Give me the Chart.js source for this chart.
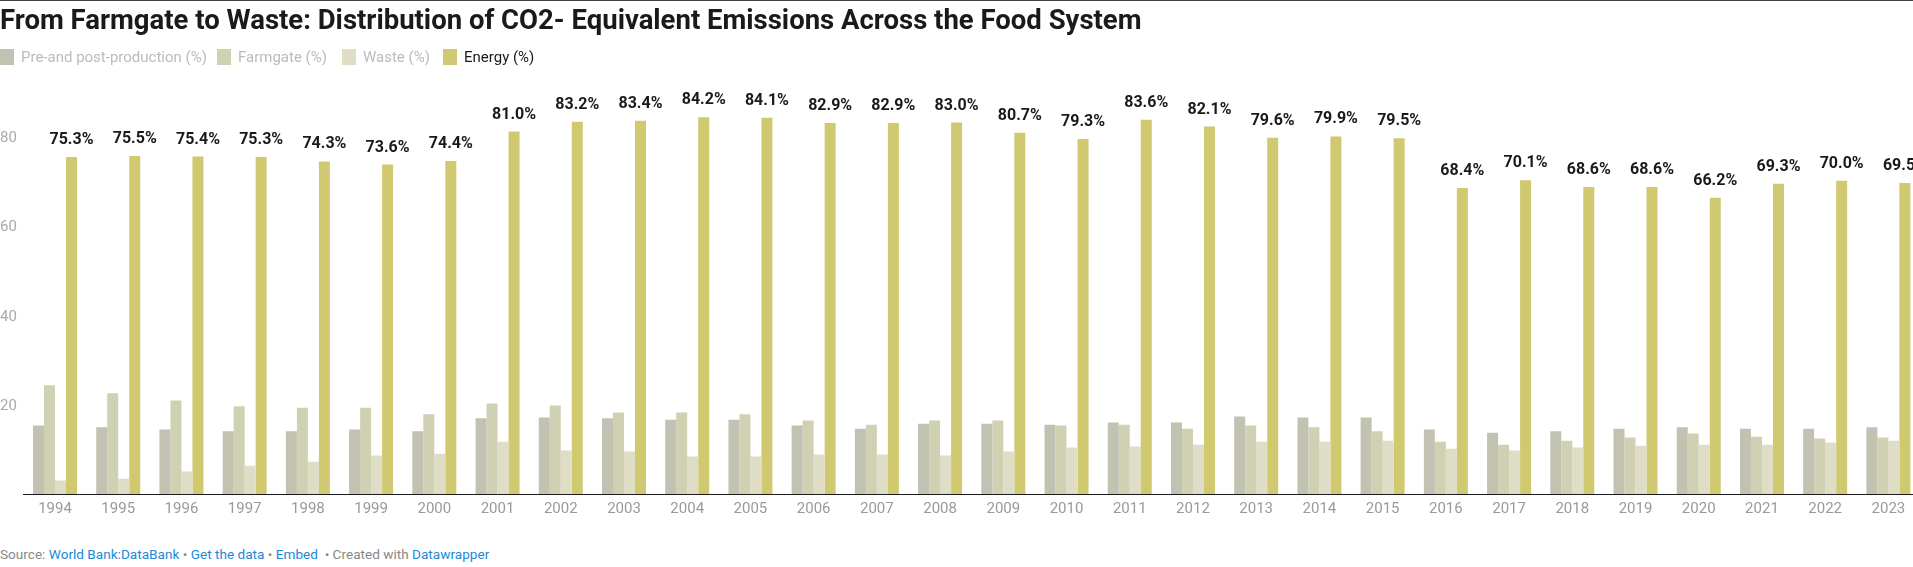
<!DOCTYPE html>
<html>
<head>
<meta charset="utf-8">
<script src="https://cdn.jsdelivr.net/npm/chart.js@4/dist/chart.umd.min.js"></script>
<style>
  html, body { margin: 0; padding: 0; background: #fff; overflow: hidden; width: 1913px; height: 567px; }
  body { position: relative; font-family: Roboto, "Noto Sans", sans-serif; border-top: 1px solid #444; box-sizing: border-box; }
  #title { position: absolute; left: 0; top: 2px; font-size: 27.5px; font-weight: 700; color: #1a1a1a; white-space: nowrap; z-index: 2; }
  #legend { position: absolute; left: 0; top: 48px; height: 16px; z-index: 2; font-size: 15px; white-space: nowrap; }
  .li { position: absolute; top: 0; display: flex; align-items: center; height: 16px; }
  .sw { width: 14px; height: 16px; margin-right: 7px; }
  #wrap { position: absolute; left: 0; top: 0; width: 1920px; height: 520px; z-index: 1; }
  #footer { position: absolute; left: 0; top: 545px; font-size: 13.6px; color: #888; white-space: nowrap; z-index: 2; }
  #footer a { color: #1b8ad3; text-decoration: none; }
</style>
</head>
<body>
<div id="title">From Farmgate to Waste: Distribution of CO2- Equivalent Emissions Across the Food System</div>
<div id="legend"></div>
<div id="wrap"><canvas id="c"></canvas></div>
<div id="footer">Source: <a>World Bank:DataBank</a> • <a>Get the data</a> • <a>Embed</a> &nbsp;• Created with <a>Datawrapper</a></div>
<script>
const years = ["1994","1995","1996","1997","1998","1999","2000","2001","2002","2003","2004","2005","2006","2007","2008","2009","2010","2011","2012","2013","2014","2015","2016","2017","2018","2019","2020","2021","2022","2023"];
const prePost = [15.3,14.9,14.4,14.0,14.0,14.4,14.0,16.9,17.1,16.9,16.6,16.6,15.3,14.6,15.7,15.7,15.5,16.0,16.0,17.3,17.1,17.1,14.4,13.7,14.0,14.6,14.9,14.6,14.6,14.9];
const farmgate = [24.3,22.5,20.9,19.6,19.3,19.3,17.8,20.2,19.8,18.2,18.2,17.8,16.4,15.5,16.4,16.4,15.3,15.5,14.6,15.3,14.9,14.0,11.7,11.0,11.9,12.6,13.5,12.8,12.4,12.6];
const waste = [3.0,3.4,5.0,6.3,7.2,8.6,9.0,11.7,9.7,9.5,8.4,8.4,8.8,8.8,8.6,9.5,10.4,10.6,11.0,11.7,11.7,11.9,10.1,9.7,10.4,10.8,11.0,11.0,11.5,11.9];
const energy = [75.3,75.5,75.4,75.3,74.3,73.6,74.4,81.0,83.2,83.4,84.2,84.1,82.9,82.9,83.0,80.7,79.3,83.6,82.1,79.6,79.9,79.5,68.4,70.1,68.6,68.6,66.2,69.3,70.0,69.5];
const seriesNames = ["Pre-and post-production (%)","Farmgate (%)","Waste (%)","Energy (%)"];
const yTicks = [20,40,60,80];

const colors = ["#c1c2b1","#d0d1b3","#dfddc5","#d0c970"];
const legendX = [0,217,342,443];
const legendTextColors = ["#bbbbbb","#bbbbbb","#bbbbbb","#1a1a1a"];

const leg = document.getElementById('legend');
seriesNames.forEach((n,i)=>{
  const d = document.createElement('div');
  d.className='li'; d.style.left = legendX[i]+'px';
  d.innerHTML = '<span class="sw" style="background:'+colors[i]+'"></span><span style="color:'+legendTextColors[i]+'">'+n+'</span>';
  leg.appendChild(d);
});

Chart.defaults.font.family = 'Roboto, "Noto Sans", sans-serif';

const labelPlugin = {
  id: 'energyLabels',
  afterDatasetsDraw(chart) {
    const ctx = chart.ctx;
    const meta = chart.getDatasetMeta(3);
    ctx.save();
    ctx.font = 'bold 16px Roboto, sans-serif';
    ctx.fillStyle = '#1a1a1a';
    ctx.textAlign = 'center';
    ctx.textBaseline = 'middle';
    meta.data.forEach((bar,i)=>{
      ctx.fillText(energy[i].toFixed(1)+'%', bar.x, bar.y - 17);
    });
    ctx.restore();
  }
};

const arrs = [prePost, farmgate, waste, energy];
new Chart(document.getElementById('c'), {
  type: 'bar',
  data: {
    labels: years,
    datasets: arrs.map((a,i)=>({
      label: seriesNames[i], data: a, backgroundColor: colors[i],
      borderWidth: 0, barPercentage: 1.0, categoryPercentage: 0.696
    }))
  },
  options: {
    responsive: true,
    maintainAspectRatio: false,
    animation: false,
    layout: { padding: { top: 112.6, left: 0, right: 0, bottom: 0 } },
    plugins: { legend: { display: false }, tooltip: { enabled: false } },
    scales: {
      x: {
        grid: { display: true, color: 'rgba(0,0,0,0)', drawTicks: false },
        border: { display: true, color: '#1a1a1a', width: 1 },
        ticks: { color: '#9a9a9a', font: { size: 15 }, padding: 6, maxRotation: 0, autoSkip: false },
        afterFit: s => { s.height = 27; }
      },
      y: {
        min: 0, max: 85,
        grid: { display: false, drawTicks: false },
        border: { display: false },
        ticks: { color: '#aaaaaa', font: { size: 15 }, padding: 0, crossAlign: 'far', labelOffset: 2 },
        afterBuildTicks: s => { s.ticks = yTicks.map(v=>({value:v})); },
        afterFit: s => { s.width = 23.4; }
      }
    }
  },
  plugins: [labelPlugin]
});
</script>
</body>
</html>
